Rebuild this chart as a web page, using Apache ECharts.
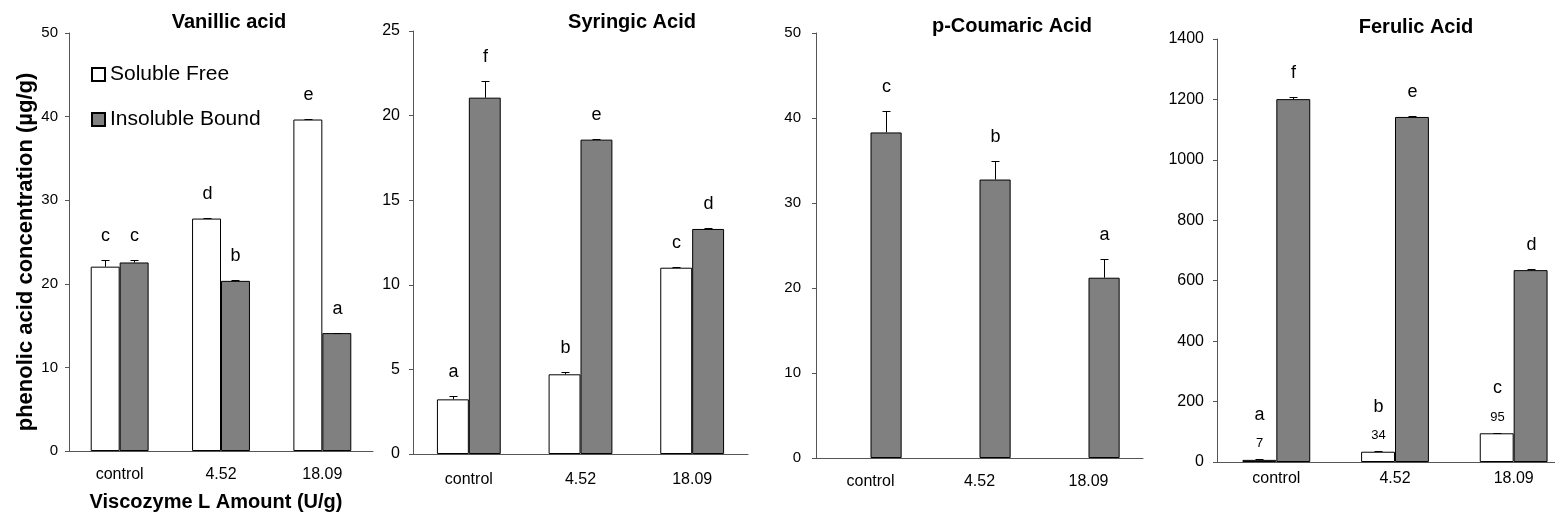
<!DOCTYPE html>
<html>
<head>
<meta charset="utf-8">
<script src="https://cdn.jsdelivr.net/npm/echarts@6/dist/echarts.min.js"></script>
<style>
  html, body { margin: 0; padding: 0; background: #fff; }
  #chart { width: 1555px; height: 521px; }
</style>
</head>
<body>
<div id="chart"></div>
<script>
// Phenolic acid content after Viscozyme L treatment
const categories = ['control', '4.52', '18.09'];
const seriesNames = ['Soluble Free', 'Insoluble Bound'];

// Vanillic acid (µg/g)
const vanillicFree = [22.05, 27.8, 39.65];
const vanillicFreeErr = [0.75, 0.12, 0.05];
const vanillicBound = [22.55, 20.35, 14.1];
const vanillicBoundErr = [0.35, 0.05, 0.05];
const vanillicFreeLetters = ['c', 'd', 'e'];
const vanillicBoundLetters = ['c', 'b', 'a'];

// Syringic acid (µg/g)
const syringicFree = [3.23, 4.71, 11.01];
const syringicFreeErr = [0.2, 0.16, 0.06];
const syringicBound = [21.06, 18.58, 13.3];
const syringicBoundErr = [0.97, 0.06, 0.04];
const syringicFreeLetters = ['a', 'b', 'c'];
const syringicBoundLetters = ['f', 'e', 'd'];

// p-Coumaric acid (µg/g) - bound form only
const coumaricFree = [null, null, null];
const coumaricBound = [38.3, 32.76, 21.21];
const coumaricBoundErr = [2.55, 2.16, 2.16];
const coumaricBoundLetters = ['c', 'b', 'a'];

// Ferulic acid (µg/g)
const ferulicFree = [7, 34, 95];
const ferulicFreeErr = [2, 2, 2];
const ferulicBound = [1201, 1142, 635];
const ferulicBoundErr = [6, 4, 3];
const ferulicFreeLetters = ['a', 'b', 'c'];
const ferulicBoundLetters = ['f', 'e', 'd'];

// Axis scales
const yMax = [50, 25, 50, 1400];
const yStep = [10, 5, 10, 200];

const FONT = "'Liberation Sans', Arial, Helvetica, sans-serif";
const BAR_FRAC = 0.2857; // two bars fill 2/3.5 of each category band

const panels = [
  { grid: { left: 69, top: 33, width: 304, height: 418 }, title: 'Vanillic acid', tx: 229, ty: 22,
    labelMargin: 16, yFont: 15, yMargin: 11,
    free: vanillicFree, freeErr: vanillicFreeErr, freeLetters: vanillicFreeLetters,
    bound: vanillicBound, boundErr: vanillicBoundErr, boundLetters: vanillicBoundLetters },
  { grid: { left: 413, top: 31, width: 335, height: 423 }, title: 'Syringic Acid', tx: 632, ty: 22,
    labelMargin: 18, yFont: 16, yMargin: 13,
    free: syringicFree, freeErr: syringicFreeErr, freeLetters: syringicFreeLetters,
    bound: syringicBound, boundErr: syringicBoundErr, boundLetters: syringicBoundLetters },
  { grid: { left: 816, top: 33, width: 327, height: 425 }, title: 'p-Coumaric Acid', tx: 1012, ty: 26,
    labelMargin: 16, yFont: 15, yMargin: 15,
    free: coumaricFree, freeErr: null, freeLetters: null,
    bound: coumaricBound, boundErr: coumaricBoundErr, boundLetters: coumaricBoundLetters },
  { grid: { left: 1217, top: 39, width: 356, height: 423 }, title: 'Ferulic Acid', tx: 1416, ty: 27,
    labelMargin: 9, yFont: 16, yMargin: 13,
    free: ferulicFree, freeErr: ferulicFreeErr, freeLetters: ferulicFreeLetters, showValues: true,
    bound: ferulicBound, boundErr: ferulicBoundErr, boundLetters: ferulicBoundLetters }
];

// Error whiskers plus significance letters, drawn over one bar series
function whiskers(gi, values, errs, letters, side, showValues) {
  return {
    type: 'custom',
    xAxisIndex: gi,
    yAxisIndex: gi,
    z: 5,
    silent: true,
    clip: false,
    data: values.map((v, i) => [i, v, errs[i]]),
    encode: { x: 0, y: 1 },
    renderItem(params, api) {
      const idx = params.dataIndex;
      const cat = api.value(0);
      const v = api.value(1);
      const base = api.coord([cat, v]);
      const tip = api.coord([cat, v + api.value(2)]);
      const bw = api.size([1, 0])[0] * BAR_FRAC;
      const x = Math.round(base[0] + side * bw / 2) + 0.5;
      const yTip = Math.round(tip[1]) + 0.5;
      const children = [
        { type: 'line', shape: { x1: x, y1: base[1], x2: x, y2: yTip }, style: { stroke: '#000', lineWidth: 1 } },
        { type: 'line', shape: { x1: x - 4, y1: yTip, x2: x + 4, y2: yTip }, style: { stroke: '#000', lineWidth: 1 } }
      ];
      let letterY = tip[1] - 24;
      if (showValues) {
        children.push({ type: 'text', style: { text: String(values[idx]), x: x, y: base[1] - 16,
          align: 'center', verticalAlign: 'middle', font: '13px ' + FONT, fill: '#000' } });
        letterY = base[1] - 45;
      }
      children.push({ type: 'text', style: { text: letters[idx], x: x, y: letterY,
        align: 'center', verticalAlign: 'middle', font: '18px ' + FONT, fill: '#000' } });
      return { type: 'group', children };
    }
  };
}

const grids = [], xAxes = [], yAxes = [], series = [], graphics = [];

panels.forEach((p, gi) => {
  grids.push(Object.assign({ outerBoundsMode: 'none', containLabel: false }, p.grid));
  xAxes.push({
    type: 'category', gridIndex: gi, data: categories,
    axisLine: { lineStyle: { color: '#555', width: 1 } },
    axisTick: { show: false },
    axisLabel: { color: '#000', fontSize: 16, fontFamily: FONT, margin: p.labelMargin },
    splitLine: { show: false }
  });
  yAxes.push({
    type: 'value', gridIndex: gi, min: 0, max: yMax[gi], interval: yStep[gi],
    axisLine: { show: true, lineStyle: { color: '#555', width: 1 } },
    axisTick: { show: true, inside: false, length: 4, lineStyle: { color: '#555' } },
    axisLabel: { color: '#000', fontSize: p.yFont, fontFamily: FONT, margin: p.yMargin,
      formatter: (val) => String(val) },
    splitLine: { show: false }
  });
  series.push({
    name: seriesNames[0], type: 'bar', xAxisIndex: gi, yAxisIndex: gi,
    data: p.free, barWidth: (BAR_FRAC * 100) + '%', barGap: '0%',
    itemStyle: { color: '#ffffff', borderColor: '#000', borderWidth: 1 }
  });
  series.push({
    name: seriesNames[1], type: 'bar', xAxisIndex: gi, yAxisIndex: gi,
    data: p.bound, barWidth: (BAR_FRAC * 100) + '%', barGap: '0%',
    itemStyle: { color: '#808080', borderColor: '#000', borderWidth: 1 }
  });
  if (p.freeErr) series.push(whiskers(gi, p.free, p.freeErr, p.freeLetters, -1, p.showValues));
  series.push(whiskers(gi, p.bound, p.boundErr, p.boundLetters, 1, false));

  graphics.push({ type: 'text', x: p.tx, y: p.ty,
    style: { text: p.title, align: 'center', verticalAlign: 'middle', font: 'bold 20px ' + FONT, fill: '#000' } });
});

graphics.push({ type: 'text', x: 26, y: 252, rotation: Math.PI / 2,
  style: { text: 'phenolic acid concentration (\u00b5g/g)', align: 'center', verticalAlign: 'middle',
    font: 'bold 22px ' + FONT, fill: '#000' } });
graphics.push({ type: 'text', x: 216, y: 502,
  style: { text: 'Viscozyme L Amount (U/g)', align: 'center', verticalAlign: 'middle',
    font: 'bold 20px ' + FONT, fill: '#000' } });

const chart = echarts.init(document.getElementById('chart'), null, { renderer: 'canvas' });
chart.setOption({
  animation: false,
  backgroundColor: '#fff',
  textStyle: { fontFamily: FONT },
  legend: {
    data: seriesNames, orient: 'vertical', left: 86, top: 59,
    icon: 'rect', itemWidth: 13, itemHeight: 13, itemGap: 24,
    textStyle: { color: '#000', fontSize: 21, fontFamily: FONT, lineHeight: 21 },
    selectedMode: false
  },
  grid: grids, xAxis: xAxes, yAxis: yAxes, series,
  graphic: graphics
});
</script>
</body>
</html>
